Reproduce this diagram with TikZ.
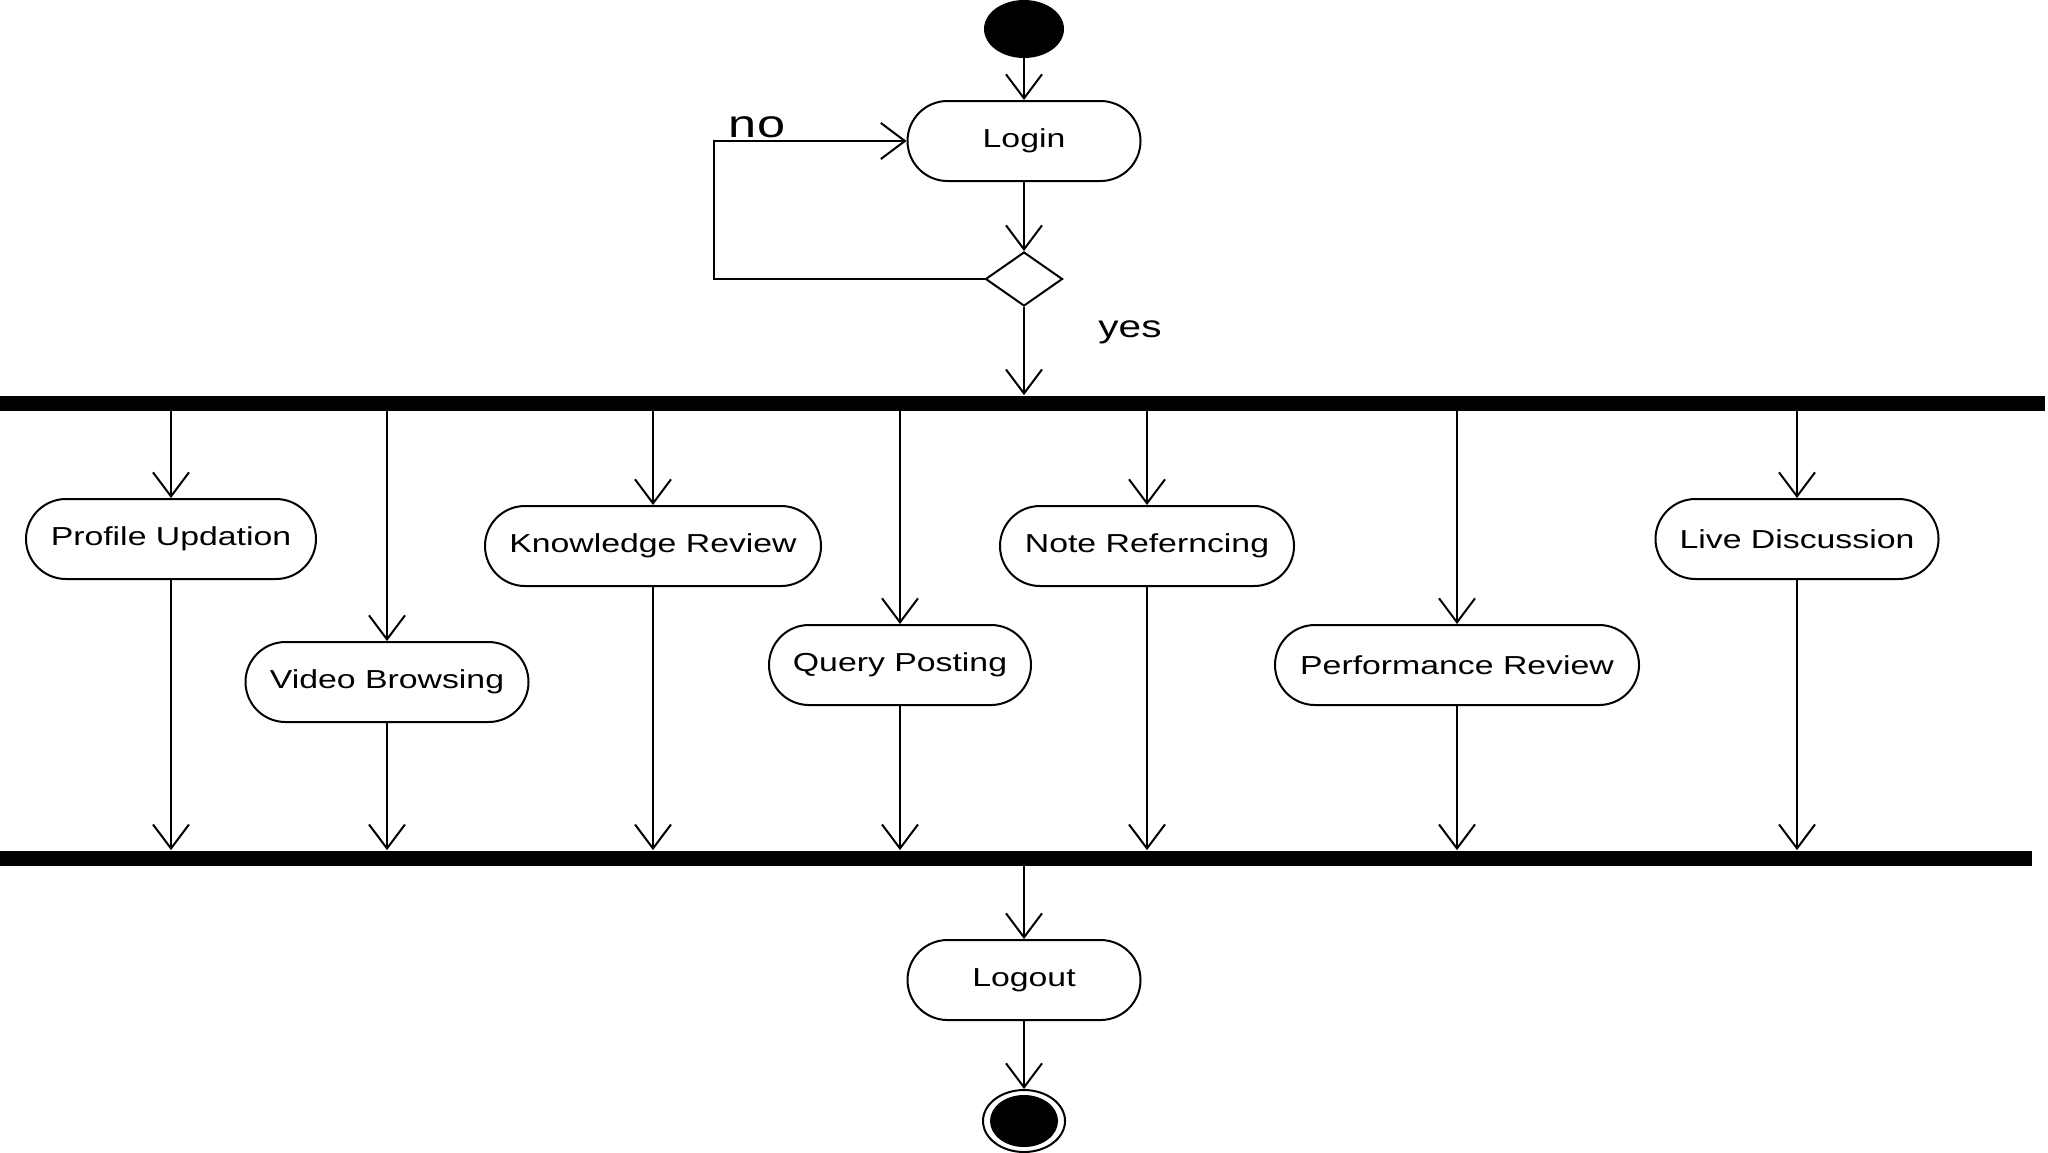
\documentclass[tikz,border=0pt]{standalone}
\usepackage{fontspec}
\setmainfont{Liberation Sans}
\usetikzlibrary{arrows.meta,shapes.geometric}
\newcommand{\wide}[1]{\scalebox{1.3}[1]{#1}}
\begin{document}
\begin{tikzpicture}[x=0.5pt,y=-0.5pt,
  act/.style={draw, rectangle, rounded corners=20pt, minimum height=40pt, inner sep=0pt, line width=1pt, font=\fontsize{13pt}{15pt}\selectfont},
  flow/.style={-{Straight Barb[length=12pt,width=18pt]}, line width=1pt},
  bar/.style={fill=black, rectangle, inner sep=0pt, minimum height=7.5pt},
  lbl/.style={inner sep=0pt}]
\useasboundingbox (0,0) rectangle (2048,1152);
% start and login
\node[fill=black, ellipse, minimum width=40pt, minimum height=29pt, inner sep=0pt] (start) at (1024,29) {};
\node[act, minimum width=116.5pt] (login) at (1024,141) {\wide{Login}};
\node[draw, diamond, minimum width=38.5pt, minimum height=27pt, inner sep=0pt, line width=1pt] (dec) at (1024,279) {};
% bars
\node[bar, minimum width=1022.5pt] (fork) at (1022.5,403) {};
\node[bar, minimum width=1016pt] (join) at (1016,858) {};
% activities
\node[act, minimum width=145pt] (pu) at (171,539) {\wide{Profile Updation}};
\node[act, minimum width=141.5pt] (vb) at (387,682) {\wide{Video Browsing}};
\node[act, minimum width=168pt] (kr) at (653,546) {\wide{Knowledge Review}};
\node[act, minimum width=131pt] (qp) at (900,665) {\wide{Query Posting}};
\node[act, minimum width=147pt] (nr) at (1147,546) {\wide{Note Referncing}};
\node[act, minimum width=182pt] (pr) at (1457,665) {\wide{Performance Review}};
\node[act, minimum width=141.5pt] (ld) at (1797,539) {\wide{Live Discussion}};
\node[act, minimum width=116.5pt] (logout) at (1024,980) {\wide{Logout}};
% end
\node[draw, ellipse, minimum width=41pt, minimum height=31pt, inner sep=0pt, line width=1pt] (endo) at (1024,1121) {};
\node[fill=black, ellipse, minimum width=34pt, minimum height=26pt, inner sep=0pt] (endi) at (1024,1121) {};
% labels
\node[lbl, font=\fontsize{19.4pt}{21pt}\selectfont] (no) at (757,127) {\wide{no}};
\node[lbl, font=\fontsize{15.6pt}{18pt}\selectfont] (yes) at (1130,332) {\wide{yes}};
% connectors
\draw[flow] (start) -- (login);
\draw[flow] (login) -- (dec);
\draw[flow] (dec.south) -- (fork.north -| dec.south);
\coordinate (loopb) at (714,279);
\draw[flow] (dec.west) -- (loopb) -- (loopb |- login.west) -- (login.west);
\foreach \n in {pu,vb,kr,qp,nr,pr,ld} {
  \draw[flow] (fork.south -| \n.north) -- (\n.north);
  \draw[flow] (\n.south) -- (join.north -| \n.south);
}
\draw[flow] (join.south -| logout.north) -- (logout.north);
\draw[flow] (logout) -- (endo);
\end{tikzpicture}
\end{document}
